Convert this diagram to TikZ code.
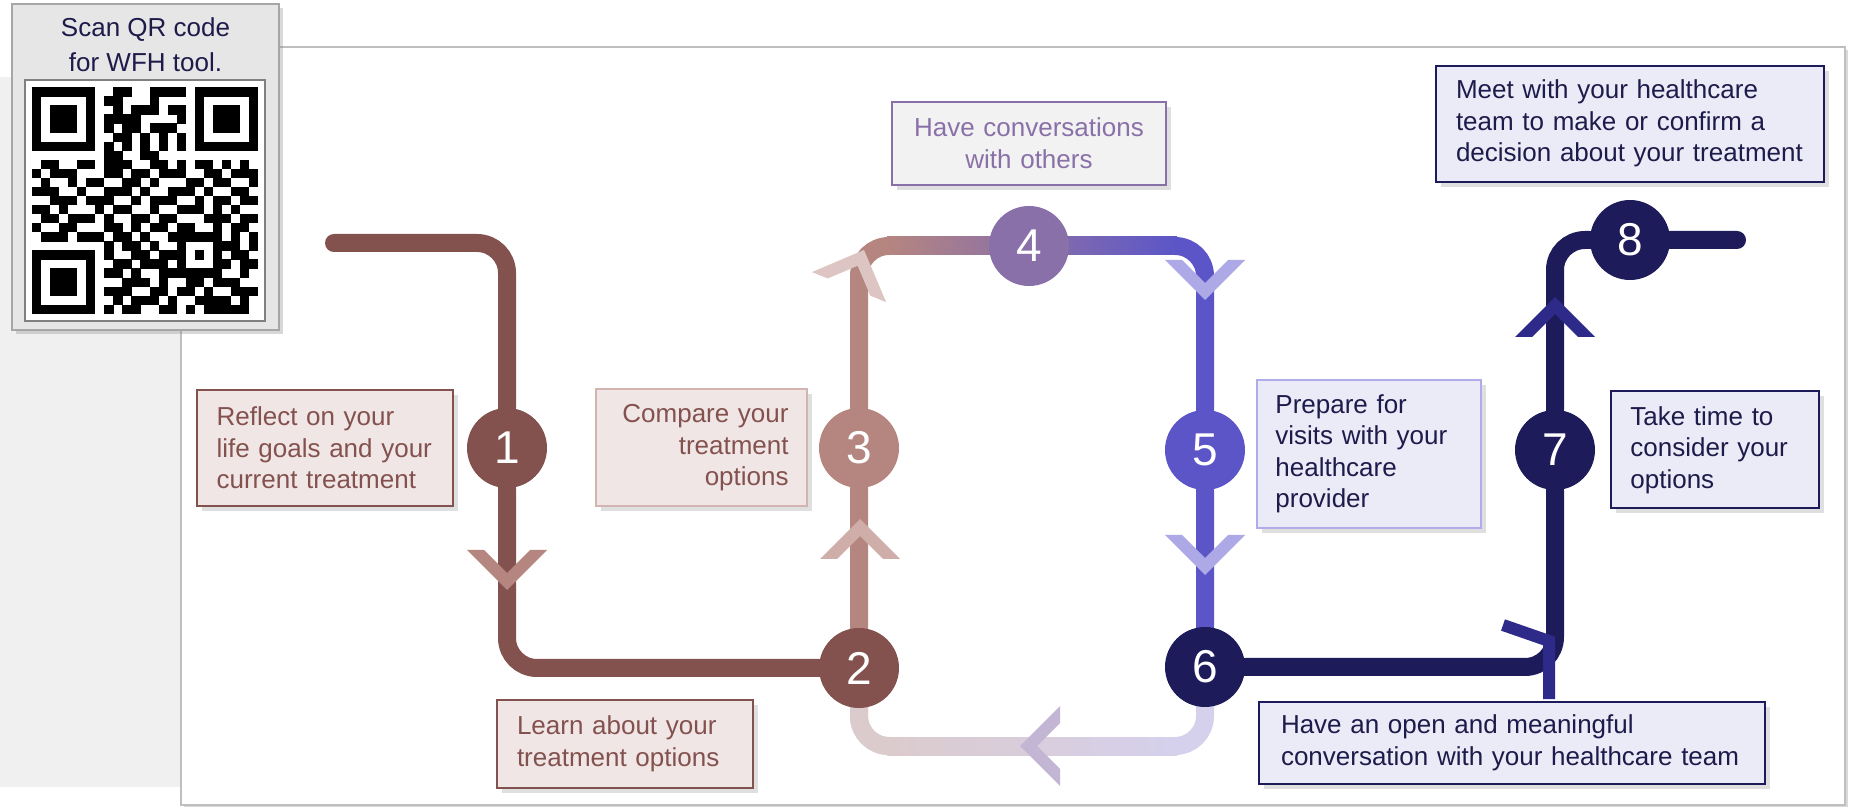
\documentclass[tikz,border=0pt]{standalone}
\usepackage{fontspec}
\setmainfont{Liberation Sans}
\usetikzlibrary{positioning,calc,shadows,backgrounds}
\definecolor{brownstep}{HTML}{84524E}
\definecolor{rosestep}{HTML}{B5857F}
\definecolor{plumstep}{HTML}{8A70A8}
\definecolor{violetstep}{HTML}{5B55C8}
\definecolor{navystep}{HTML}{1E1B5A}
\definecolor{navytext}{HTML}{1E1B4B}
\definecolor{rosefill}{HTML}{F0E6E6}
\definecolor{lavfill}{HTML}{EBEAF7}
\definecolor{grayfill}{HTML}{F2F2F2}
\definecolor{roseedge}{HTML}{D4B4B0}
\definecolor{lavedge}{HTML}{B0ACEC}
\definecolor{lowrose}{HTML}{DCCBCD}
\definecolor{lowlav}{HTML}{D5D0EC}
\definecolor{chevrose}{HTML}{CFAEAA}
\definecolor{chevpale}{HTML}{DCC5C3}
\definecolor{chevlav}{HTML}{ADA8E6}
\definecolor{chevlow}{HTML}{C3B6D4}
\definecolor{chevnavy}{HTML}{2E2A8A}
\definecolor{panelgray}{HTML}{F0F0F0}
\definecolor{framegray}{HTML}{BFBFBF}
\definecolor{qrpanel}{HTML}{E6E6E6}
\definecolor{qredge}{HTML}{A6A6A6}
\definecolor{qrline}{HTML}{808080}
\tikzset{
  stepdot/.style={circle, minimum size=40pt, inner sep=0pt, text=white,
    font=\fontsize{23pt}{23pt}\selectfont},
  tipbox/.style={rectangle, draw, line width=1pt, inner xsep=#1, inner ysep=3pt,
    font=\fontsize{13pt}{15.75pt}\selectfont, align=left,
    drop shadow={shadow xshift=2.5pt, shadow yshift=-2.5pt, opacity=0.25}},
  tipbox/.default=10pt,
  route/.style={line width=9pt, rounded corners=15pt, line cap=round},
  chev/.pic={\fill (-40,-40) -- (0,0) -- (40,-40) -- (23,-40) -- (0,-17) -- (-23,-40) -- cycle;},
}

\begin{document}
\begin{tikzpicture}[x=0.5pt, y=-0.5pt]
\useasboundingbox (0,0) rectangle (1849,807);

% ===== steps =====
\node[stepdot, fill=brownstep]  (s1) at (507,448)  {1};
\node[stepdot, fill=brownstep]  (s2) at (859,668)  {2};
\node[stepdot, fill=rosestep]   (s3) at (859,448)  {3};
\node[stepdot, fill=plumstep]   (s4) at (1029,246) {4};
\node[stepdot, fill=violetstep] (s5) at (1205,450) {5};
\node[stepdot, fill=navystep]   (s6) at (1205,667) {6};
\node[stepdot, fill=navystep]   (s7) at (1555,450) {7};
\node[stepdot, fill=navystep]   (s8) at (1630,240) {8};
\coordinate (start) at (334,243);
\coordinate (low)   at (859,746);
\coordinate (lowmid) at (1030,746);
\coordinate (finish) at (1737,240);
\coordinate (bend) at (1549,641);

\begin{scope}[on background layer]
\fill[panelgray] (0,77) rectangle (180,787);
\draw[framegray, line width=0.75pt, fill=white,
  drop shadow={shadow xshift=1.5pt, shadow yshift=-1.5pt, opacity=0.3}] (181,47) rectangle (1845,805);

% ===== route =====
\draw[route, brownstep] (start) -| (s1) |- (s2);              % start -> 1 -> 2
\draw[route, rosestep] (s2) -- (s3) |- (s4);                   % 2 -> 3 -> 4
\draw[route, violetstep] (s4) -| (s5) -- (s6);                 % 4 -> 5 -> 6
\draw[route, lowlav] (s6) |- (low) -- (s2);                    % 6 -> back to 2
\draw[route, lowrose] (lowmid) -| (s2);
\draw[route, navystep] (s6) -| (s7) |- (s8) -- (finish);       % 6 -> 7 -> 8

% colour runs on the straight parts
\shade[left color=rosestep, right color=plumstep] ($(s3 |- s4)+(28,-9)$) rectangle ($(s4)+(0,9)$);
\shade[left color=plumstep, right color=violetstep] ($(s4)+(0,-9)$) rectangle ($(s5 |- s4)+(-28,9)$);
\shade[left color=lowrose, right color=lowlav] ($(low)+(28,-9)$) rectangle ($(s6 |- low)+(-28,9)$);
\end{scope}

% ===== chevrons =====
\pic[color=rosestep] at (507,590) {chev};
\pic[color=chevrose, rotate=180] at (860,519) {chev};
\pic[color=chevpale, rotate=158] at (864,250) {chev};
\pic[color=chevlav] at (1205,300) {chev};
\pic[color=chevlav] at (1205,575) {chev};
\pic[color=chevlow, rotate=-90] at (1020,746) {chev};
\draw[chevnavy, line width=6pt] ($(bend)+(-46,-16)$) -- (bend) -- ($(bend)+(0,58)$);
\pic[color=chevnavy, rotate=180] at (1555,297) {chev};

% ===== notes =====
\node[tipbox, left=6.5pt of s1, draw=brownstep, fill=rosefill, text=brownstep,
  text width=108pt, minimum height=58pt] (reflect)
  {Reflect on your\\life goals and your\\current treatment};
\node[tipbox, draw=brownstep, fill=rosefill, text=brownstep,
  text width=108pt, minimum height=44pt] (learn) at (625,744)
  {Learn about your\\treatment options};
\node[tipbox=9pt, left=5.5pt of s3, draw=roseedge, fill=rosefill, text=brownstep,
  text width=87.5pt, minimum height=58.5pt, align=right] (compare)
  {Compare your\\treatment\\options};
\node[tipbox=8pt, above=10pt of s4, draw=plumstep, fill=grayfill, text=plumstep,
  text width=121pt, minimum height=41.5pt, align=center] (others)
  {Have conversations\\with others};
\node[tipbox=9pt, right=5.5pt of s5, yshift=-2pt, draw=lavedge, fill=lavfill, text=navytext,
  text width=94pt, minimum height=74pt] (prepare)
  {Prepare for\\visits with your\\healthcare\\provider};
\node[tipbox=11pt, draw=navystep, fill=lavfill, text=navytext,
  text width=231pt, minimum height=41pt] (openconv) at (1512,743)
  {Have an open and meaningful\\conversation with your healthcare team};
\node[tipbox=9.5pt, right=7.5pt of s7, draw=navystep, fill=lavfill, text=navytext,
  text width=85pt, minimum height=58.5pt] (taketime)
  {Take time to\\consider your\\options};
\node[tipbox, above=8.5pt of s8, draw=navystep, fill=lavfill, text=navytext,
  text width=174pt, minimum height=58pt] (decide)
  {Meet with your healthcare\\team to make or confirm a\\decision about your treatment};

% ===== QR panel =====
\node[draw=qredge, fill=qrpanel, line width=1pt, minimum width=133.5pt, minimum height=163pt,
  drop shadow={shadow xshift=2pt, shadow yshift=-2pt, opacity=0.3}] (qrbox) at (145.5,167) {};
\node[text=navytext, align=center, font=\fontsize{13pt}{17.5pt}\selectfont] (qrnote) at (145.5,44.5)
  {Scan QR code\\for WFH tool.};
\node[draw=qrline, line width=1.2pt, fill=white, minimum width=120pt, minimum height=120.5pt,
  inner sep=0pt] (qr) at (145,200.5) {};
\foreach \row [count=\r from 0] in {
  {1,1,1,1,1,1,1,0,0,1,1,0,0,1,1,1,1,0,1,1,1,1,1,1,1},
  {1,0,0,0,0,0,1,0,1,1,0,0,0,1,0,0,0,0,1,0,0,0,0,0,1},
  {1,0,1,1,1,0,1,0,0,1,0,1,1,1,0,1,1,0,1,0,1,1,1,0,1},
  {1,0,1,1,1,0,1,0,1,1,1,1,0,0,0,0,1,0,1,0,1,1,1,0,1},
  {1,0,1,1,1,0,1,0,1,0,1,1,0,1,1,1,0,0,1,0,1,1,1,0,1},
  {1,0,0,0,0,0,1,0,0,1,1,0,1,0,1,0,1,0,1,0,0,0,0,0,1},
  {1,1,1,1,1,1,1,0,1,0,1,0,1,0,1,0,1,0,1,1,1,1,1,1,1},
  {0,0,0,0,0,0,0,0,1,1,0,0,1,1,0,0,0,0,0,0,0,0,0,0,0},
  {0,1,1,0,0,1,1,0,1,1,1,0,0,1,1,0,1,0,1,1,0,1,0,1,0},
  {1,0,1,1,1,0,0,0,1,1,0,1,1,0,1,1,1,0,0,1,1,0,1,1,1},
  {0,1,0,0,1,0,1,1,0,0,1,1,0,1,0,0,0,1,1,0,1,1,0,0,1},
  {1,1,1,0,0,1,0,0,1,1,1,0,1,0,0,1,1,1,0,1,0,0,1,1,0},
  {0,0,1,1,1,0,1,1,1,0,0,1,0,1,1,1,0,0,1,0,1,1,0,1,1},
  {1,1,0,1,0,0,0,1,0,1,1,0,0,1,0,0,1,1,1,0,1,0,1,0,0},
  {0,1,1,0,1,1,1,0,1,0,0,1,1,0,1,1,0,0,0,1,1,1,0,1,1},
  {1,0,0,1,1,0,0,0,1,1,0,1,0,1,1,0,1,1,0,0,1,0,1,1,0},
  {0,1,1,1,0,1,1,1,0,1,1,0,1,0,0,1,1,1,1,1,1,0,1,0,1},
  {0,0,0,0,0,0,0,0,1,0,1,1,0,1,0,0,1,0,0,0,1,1,1,0,1},
  {1,1,1,1,1,1,1,0,1,0,0,1,1,0,1,1,1,0,1,0,1,0,1,1,0},
  {1,0,0,0,0,0,1,0,0,1,1,0,1,1,1,0,1,0,0,0,1,1,0,1,1},
  {1,0,1,1,1,0,1,0,1,1,0,1,0,0,1,1,1,1,1,1,1,0,0,1,0},
  {1,0,1,1,1,0,1,0,0,0,1,1,1,0,1,0,0,1,1,0,1,1,1,0,0},
  {1,0,1,1,1,0,1,0,1,1,1,0,0,1,1,0,1,1,0,1,0,0,1,1,1},
  {1,0,0,0,0,0,1,0,0,1,0,1,1,1,0,1,0,0,1,1,1,1,0,1,0},
  {1,1,1,1,1,1,1,0,1,0,1,1,0,0,1,1,0,1,0,1,1,1,1,1,0}}{
  \foreach \b [count=\c from 0] in \row {
    \ifnum\b=1 \fill ($(qr.center)+(-113.25+9.06*\c,-113.25+9.06*\r)$) rectangle ++(9.3,9.3); \fi
  }
}

\end{tikzpicture}
\end{document}
